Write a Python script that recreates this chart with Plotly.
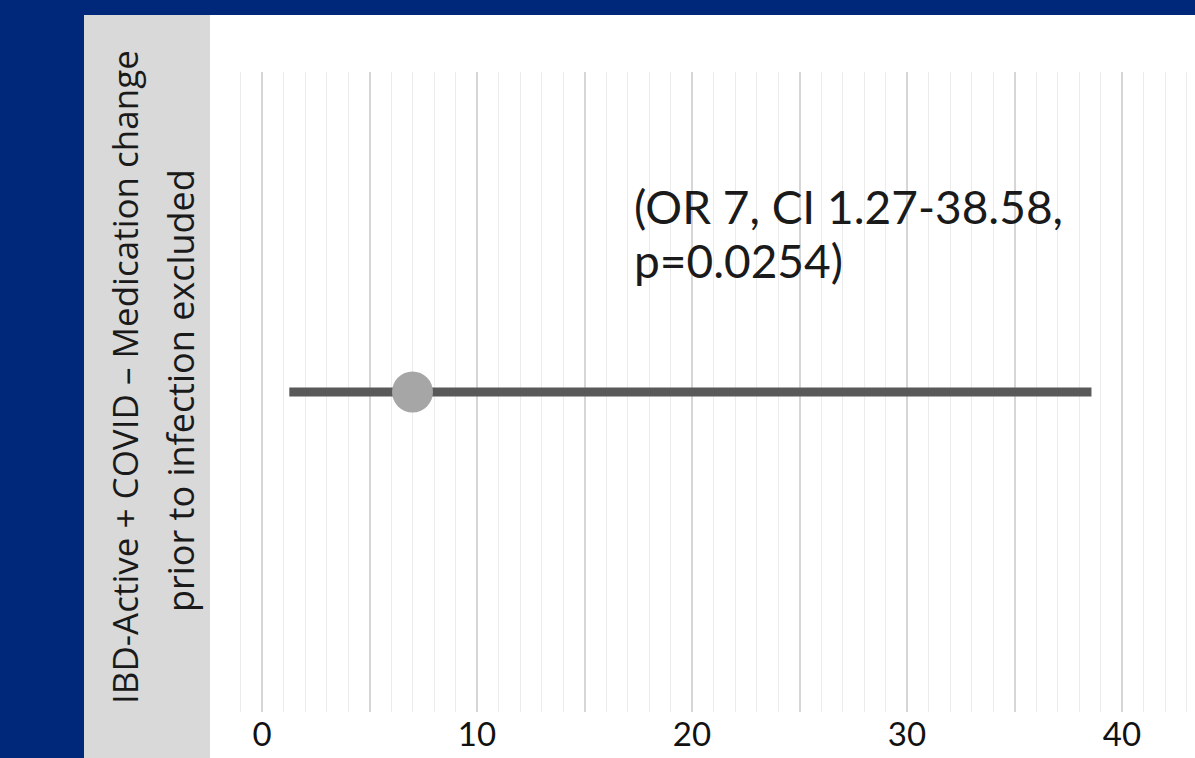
import plotly.graph_objects as go

# Data
label_lines = ["IBD-Active + COVID – Medication change", "prior to infection excluded"]
odds_ratio = [7]
ci_low = [1.27]
ci_high = [38.58]
stat_lines = ["(OR 7, CI 1.27-38.58,", "p=0.0254)"]
tick_vals = [0, 5, 10, 15, 20, 25, 30, 35, 40]
tick_text = ["0", "", "10", "", "20", "", "30", "", "40"]

W, H = 1195, 758
ML, MR, MT, MB = 230, 5, 72, 46
PW, PH = W - ML - MR, H - MT - MB

def px_x(p):
    return (p - ML) / PW

def px_y(p):
    return (H - MB - p) / PH

navy = "#00287a"

fig = go.Figure()
fig.add_trace(go.Scatter(
    x=[ci_low[0], ci_high[0]], y=[0, 0], mode="lines",
    line=dict(color="#595959", width=9), hoverinfo="skip", showlegend=False))
fig.add_trace(go.Scatter(
    x=odds_ratio, y=[0], mode="markers",
    marker=dict(size=41, color="#a6a6a6", line=dict(width=0)), showlegend=False))

# panels
fig.add_shape(type="rect", xref="paper", yref="paper",
              x0=px_x(84), x1=px_x(210), y0=px_y(15), y1=px_y(758),
              fillcolor="#d9d9d9", line=dict(width=0), layer="below")
fig.add_shape(type="rect", xref="paper", yref="paper",
              x0=px_x(210), x1=px_x(1195), y0=px_y(15), y1=px_y(758),
              fillcolor="#ffffff", line=dict(width=0), layer="below")

# rotated label
for txt, xp, yp, fs in zip(label_lines, [124, 180], [377, 391], [35, 36]):
    fig.add_annotation(text=txt, xref="paper", yref="paper",
                       x=px_x(xp), y=px_y(yp), showarrow=False, textangle=-90,
                       xanchor="center", yanchor="middle",
                       font=dict(family="Open Sans", size=fs, color="#1a1a1a"))

# stats text
for txt, yp in zip(stat_lines, [206, 260]):
    fig.add_annotation(text=txt, xref="paper", yref="paper",
                       x=px_x(632), y=px_y(yp), showarrow=False,
                       xanchor="left", yanchor="middle",
                       font=dict(family="Lato", size=46, color="#1a1a1a"))

scale = 21.5
x0 = -(262 - ML) / scale
x1 = x0 + PW / scale

fig.update_xaxes(range=[x0, x1], tickvals=tick_vals, ticktext=tick_text,
                 showgrid=True, gridcolor="#d6d6d6", gridwidth=1.5,
                 minor=dict(dtick=1, tick0=0, showgrid=True, gridcolor="#ebebeb", gridwidth=1),
                 zeroline=False, showline=False, ticks="", ticklabelstandoff=0,
                 tickfont=dict(family="Lato", size=33, color="#111111"))
fig.update_yaxes(range=[-1, 1], visible=False, showgrid=False, zeroline=False)

fig.update_layout(width=W, height=H, margin=dict(l=ML, r=MR, t=MT, b=MB),
                  paper_bgcolor=navy, plot_bgcolor="rgba(0,0,0,0)")

fig.write_html("out.html", config={"displayModeBar": False},
               post_script="document.body.style.margin='0';document.body.style.overflow='hidden';")
